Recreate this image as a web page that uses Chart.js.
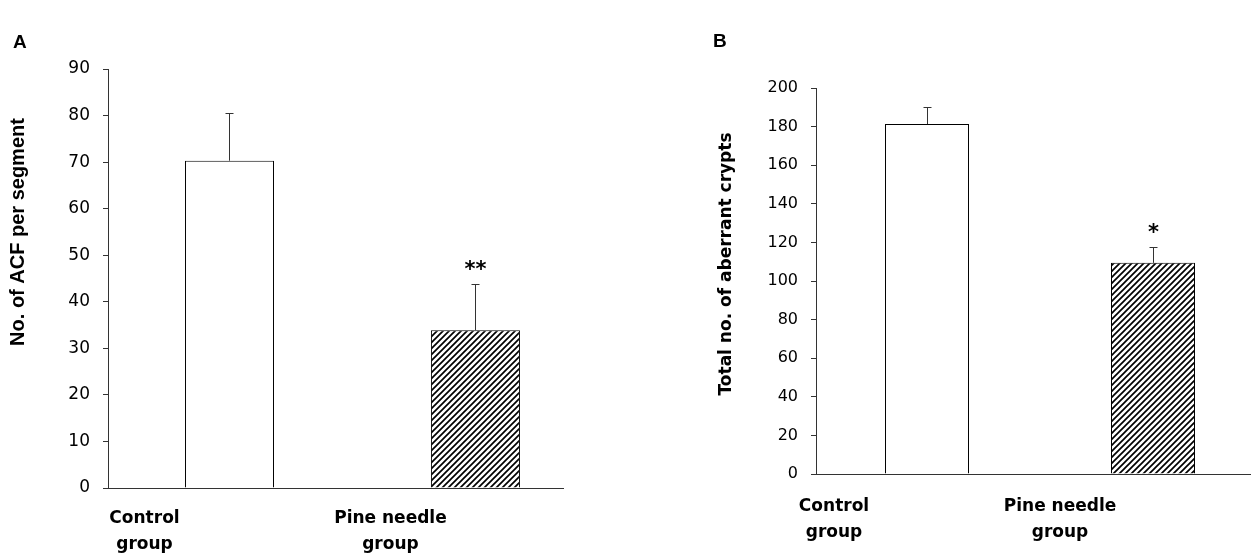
<!DOCTYPE html>
<html>
<head>
<meta charset="utf-8">
<script src="https://cdn.jsdelivr.net/npm/chart.js@4.4.0/dist/chart.umd.min.js"></script>
<style>
  body { margin: 0; background: #fff; }
  .panel { position: absolute; top: 0; width: 627px; height: 553px; }
  #wrapA { left: 0; }
  #wrapB { left: 627px; }
</style>
</head>
<body>
<div class="panel" id="wrapA"><canvas id="chartA"></canvas></div>
<div class="panel" id="wrapB"><canvas id="chartB"></canvas></div>
<script>
// data
const groups = [['Control', 'group'], ['Pine needle', 'group']];
const groupPos = [1, 2];

const acfMean = [70.3, 33.9];
const acfErr = [10.2, 9.9];
const acfStars = ['', '**'];
const acfTicks = [0, 10, 20, 30, 40, 50, 60, 70, 80, 90];

const cryptMean = [181.3, 109.4];
const cryptErr = [8.6, 8.3];
const cryptStars = ['', '*'];
const cryptTicks = [0, 20, 40, 60, 80, 100, 120, 140, 160, 180, 200];

// diagonal hatch for the treated group
function makeHatch() {
  const c = document.createElement('canvas');
  c.width = 6; c.height = 6;
  const g = c.getContext('2d');
  g.fillStyle = '#fff';
  g.fillRect(0, 0, 6, 6);
  g.strokeStyle = '#000';
  g.lineWidth = 1.7;
  g.beginPath();
  g.moveTo(0, 6); g.lineTo(6, 0);
  g.moveTo(-3, 3); g.lineTo(3, -3);
  g.moveTo(3, 9); g.lineTo(9, 3);
  g.stroke();
  return g.createPattern(c, 'repeat');
}
const hatch = makeHatch();

// upper error bars + significance stars
const errorBars = {
  id: 'errorBars',
  afterDatasetsDraw(chart, args, opts) {
    const ctx = chart.ctx;
    const xs = chart.scales.x, ys = chart.scales.y;
    ctx.save();
    chart.data.datasets[0].data.forEach((p, i) => {
      const px = Math.round(xs.getPixelForValue(p.x)) + 0.5;
      const base = ys.getPixelForValue(p.y);
      const top = Math.round(ys.getPixelForValue(p.y + opts.err[i])) + 0.5;
      ctx.strokeStyle = '#333';
      ctx.lineWidth = 1;
      ctx.beginPath();
      ctx.moveTo(px, base);
      ctx.lineTo(px, top);
      ctx.moveTo(px - 4, top);
      ctx.lineTo(px + 4, top);
      ctx.stroke();
      if (opts.stars[i]) {
        ctx.fillStyle = '#000';
        ctx.font = 'bold 21px "DejaVu Sans"';
        ctx.textAlign = 'center';
        ctx.textBaseline = 'alphabetic';
        ctx.fillText(opts.stars[i], px, top - 9);
      }
    });
    ctx.restore();
  }
};

// panel letter and rotated y title
const panelText = {
  id: 'panelText',
  afterDraw(chart, args, opts) {
    const ctx = chart.ctx;
    ctx.save();
    ctx.fillStyle = '#000';
    ctx.font = 'bold 19px "Liberation Sans"';
    ctx.textAlign = 'left';
    ctx.textBaseline = 'alphabetic';
    ctx.fillText(opts.letter, opts.letterX, opts.letterY);
    ctx.translate(opts.titleX, opts.titleY);
    ctx.rotate(-Math.PI / 2);
    ctx.font = opts.titleFont;
    ctx.textAlign = 'center';
    ctx.textBaseline = 'middle';
    ctx.fillText(opts.title, 0, 0);
    ctx.restore();
  }
};

function makeChart(id, means, errs, stars, yTicks, cfg) {
  const ctx = document.getElementById(id).getContext('2d');
  return new Chart(ctx, {
    type: 'bar',
    data: {
      datasets: [{
        data: groupPos.map((x, i) => ({ x: x, y: means[i] })),
        backgroundColor: ['#fff', hatch],
        borderColor: '#000',
        borderWidth: 1,
        categoryPercentage: 1,
        barPercentage: cfg.barPct
      }]
    },
    options: {
      responsive: true,
      maintainAspectRatio: false,
      animation: false,
      layout: { padding: { top: cfg.top, right: cfg.right, bottom: 0, left: 0 } },
      plugins: {
        legend: { display: false },
        tooltip: { enabled: false },
        errorBars: { err: errs, stars: stars },
        panelText: cfg.text
      },
      scales: {
        x: {
          type: 'linear',
          min: cfg.xMin,
          max: cfg.xMax,
          offset: false,
          grid: { display: false, drawTicks: false, offset: false },
          border: { display: true, color: '#333', width: 1 },
          afterBuildTicks: (axis) => { axis.ticks = groupPos.map(v => ({ value: v })); },
          afterFit: (axis) => { axis.height = cfg.xHeight; },
          ticks: {
            callback: (v) => groups[groupPos.indexOf(v)],
            color: '#000',
            font: { family: 'DejaVu Sans', weight: 'bold', size: 17, lineHeight: 1.5 },
            padding: cfg.labelPad,
            labelOffset: cfg.labelOffset,
            maxRotation: 0,
            autoSkip: false
          }
        },
        y: {
          min: yTicks[0],
          max: yTicks[yTicks.length - 1],
          afterBuildTicks: (axis) => { axis.ticks = yTicks.map(v => ({ value: v })); },
          afterFit: (axis) => { axis.width = cfg.yWidth; },
          grid: { display: true, drawOnChartArea: false, drawTicks: true, tickLength: 5, color: '#333' },
          border: { display: true, color: '#333', width: 1 },
          ticks: {
            color: '#000',
            font: { family: 'DejaVu Sans', size: cfg.tickSize },
            padding: 13
          }
        }
      }
    },
    plugins: [errorBars, panelText]
  });
}

makeChart('chartA', acfMean, acfErr, acfStars, acfTicks, {
  barPct: 0.362, top: 69, right: 64, yWidth: 108, xHeight: 65,
  xMin: 0.506, xMax: 2.356, labelPad: 18, labelOffset: -85, tickSize: 17,
  text: { letter: 'A', letterX: 13, letterY: 48, title: 'No. of ACF per segment',
          titleX: 18, titleY: 232, titleFont: 'bold 20px "Liberation Sans"' }
});

makeChart('chartB', cryptMean, cryptErr, cryptStars, cryptTicks, {
  barPct: 0.3717, top: 88, right: 4, yWidth: 189, xHeight: 79,
  xMin: 0.5088, xMax: 2.4292, labelPad: 20, labelOffset: -93, tickSize: 16,
  text: { letter: 'B', letterX: 86, letterY: 47, title: 'Total no. of aberrant crypts',
          titleX: 100, titleY: 264, titleFont: 'bold 17px "DejaVu Sans"' }
});
</script>
</body>
</html>
